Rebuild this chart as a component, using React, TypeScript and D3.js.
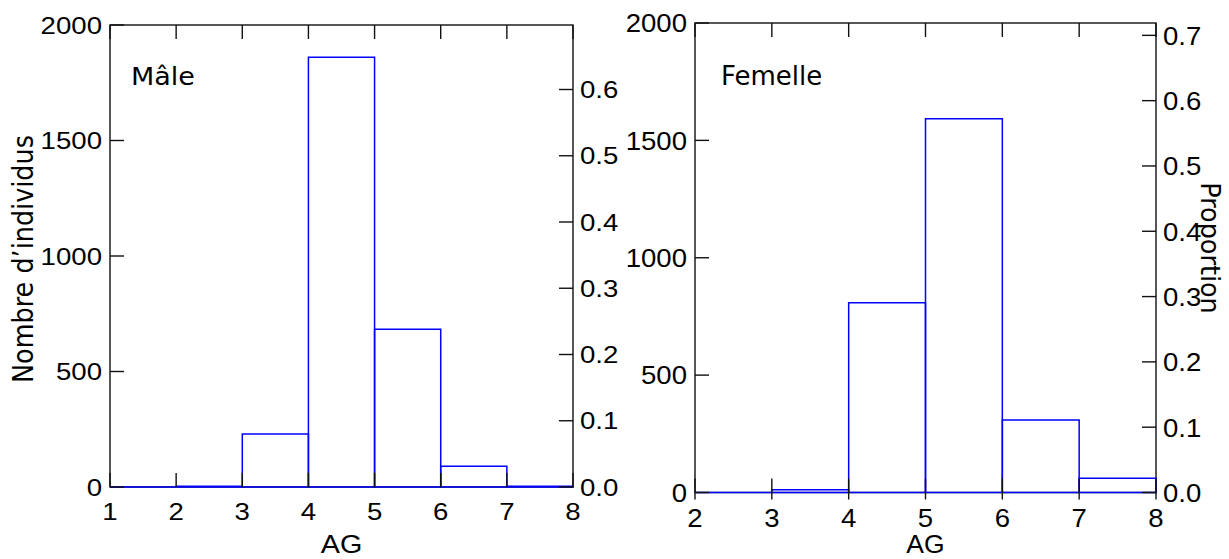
import React from "react";
import * as d3 from "d3";

// Histogram bins (left edge of each unit-wide class) and their counts
const maleBinStarts = [1, 2, 3, 4, 5, 6, 7];
const maleCounts = [0, 3, 229, 1860, 683, 90, 3];
const femaleBinStarts = [2, 3, 4, 5, 6, 7];
const femaleCounts = [0, 12, 808, 1592, 309, 61];

const maleXTicks = [1, 2, 3, 4, 5, 6, 7, 8];
const femaleXTicks = [2, 3, 4, 5, 6, 7, 8];
const countTicks = [0, 500, 1000, 1500, 2000];
const maleProportionTicks = [0, 0.1, 0.2, 0.3, 0.4, 0.5, 0.6];
const femaleProportionTicks = [0, 0.1, 0.2, 0.3, 0.4, 0.5, 0.6, 0.7];

const countMax = 2000;
const BAR = "#0000ff";
const AXIS = "#111";
const NUM_FONT = "'Liberation Sans', Arial, sans-serif";
const TITLE_FONT = "'DejaVu Sans', Verdana, sans-serif";

type TextProps = {
  x: number;
  y: number;
  sx?: number;
  rot?: number;
  size: number;
  family: string;
  anchor?: "start" | "middle" | "end";
  children: React.ReactNode;
};

function Txt({ x, y, sx = 1, rot = 0, size, family, anchor = "start", children }: TextProps) {
  return (
    <text
      transform={`translate(${x},${y}) scale(${sx},1) rotate(${rot})`}
      fontFamily={family}
      fontSize={size}
      textAnchor={anchor}
      fill="#000"
    >
      {children}
    </text>
  );
}

type PanelProps = {
  binStarts: number[];
  counts: number[];
  xTicks: number[];
  propTicks: number[];
  left: number;
  right: number;
  top: number;
  bottom: number;
  label: string;
  labelX: number;
  labelY: number;
  labelSize: number;
  labelSx: number;
  numSize: number;
  numSx: number;
  xLabelBaseline: number;
  agBaseline: number;
  agSize: number;
  bottomTickOut: number;
};

function Panel(p: PanelProps) {
  const x = d3.scaleLinear().domain([p.xTicks[0], p.xTicks[p.xTicks.length - 1]]).range([p.left, p.right]);
  const y = d3.scaleLinear().domain([0, countMax]).range([p.bottom, p.top]);
  const total = d3.sum(p.counts);
  const yp = d3.scaleLinear().domain([0, countMax / total]).range([p.bottom, p.top]);
  const tl = 14;
  const half = 0.358 * p.numSize;

  return (
    <g>
      {/* frame */}
      <rect
        x={p.left}
        y={p.top}
        width={p.right - p.left}
        height={p.bottom - p.top}
        fill="none"
        stroke={AXIS}
        strokeWidth={1.4}
      />
      {/* histogram outlines */}
      {p.binStarts.map((b, i) => {
        const x0 = x(b);
        const x1 = x(b + 1);
        const yt = y(p.counts[i]);
        const d = `M${x0},${p.bottom}V${yt}H${x1}V${p.bottom}Z`;
        return <path key={i} d={d} fill="none" stroke={BAR} strokeWidth={1.5} />;
      })}
      {/* x ticks bottom and top */}
      {p.xTicks.map((t) => (
        <g key={"x" + t}>
          <line x1={x(t)} x2={x(t)} y1={p.bottom + p.bottomTickOut} y2={p.bottom - tl} stroke={AXIS} strokeWidth={1.4} />
          <line x1={x(t)} x2={x(t)} y1={p.top} y2={p.top + tl} stroke={AXIS} strokeWidth={1.4} />
          <Txt x={x(t)} y={p.xLabelBaseline} sx={p.numSx} size={p.numSize} family={NUM_FONT} anchor="middle">
            {t}
          </Txt>
        </g>
      ))}
      {/* left count axis */}
      {countTicks.map((t) => (
        <g key={"c" + t}>
          <line x1={p.left} x2={p.left + tl} y1={y(t)} y2={y(t)} stroke={AXIS} strokeWidth={1.4} />
          <Txt x={p.left - 8} y={y(t) + half} sx={p.numSx} size={p.numSize} family={NUM_FONT} anchor="end">
            {t}
          </Txt>
        </g>
      ))}
      {/* right proportion axis */}
      {p.propTicks.map((t) => (
        <g key={"p" + t}>
          <line x1={p.right - tl} x2={p.right} y1={yp(t)} y2={yp(t)} stroke={AXIS} strokeWidth={1.4} />
          <Txt x={p.right + 7} y={yp(t) + half} sx={p.numSx} size={p.numSize} family={NUM_FONT} anchor="start">
            {d3.format(".1f")(t)}
          </Txt>
        </g>
      ))}
      <Txt x={p.labelX} y={p.labelY} sx={p.labelSx} size={p.labelSize} family={TITLE_FONT}>
        {p.label}
      </Txt>
      <Txt x={(p.left + p.right) / 2} y={p.agBaseline} sx={p.numSx} size={p.agSize} family={NUM_FONT} anchor="middle">
        AG
      </Txt>
    </g>
  );
}

export default function App() {
  return (
    <svg
      width={1229}
      height={559}
      style={{ position: "absolute", left: 0, top: 0, display: "block", background: "#fff" }}
    >
      <Panel
        binStarts={maleBinStarts}
        counts={maleCounts}
        xTicks={maleXTicks}
        propTicks={maleProportionTicks}
        left={110}
        right={573}
        top={25}
        bottom={487}
        label="Mâle"
        labelX={131}
        labelY={85}
        labelSize={25}
        labelSx={1.08}
        numSize={24}
        numSx={1.15}
        xLabelBaseline={520}
        agBaseline={553}
        agSize={25}
        bottomTickOut={0}
      />
      <Panel
        binStarts={femaleBinStarts}
        counts={femaleCounts}
        xTicks={femaleXTicks}
        propTicks={femaleProportionTicks}
        left={695}
        right={1156}
        top={23}
        bottom={492.5}
        label="Femelle"
        labelX={721}
        labelY={85}
        labelSize={26}
        labelSx={1.0}
        numSize={26}
        numSx={1.06}
        xLabelBaseline={527}
        agBaseline={553}
        agSize={25}
        bottomTickOut={7}
      />
      <Txt x={33} y={259} sx={1.12} rot={-90} size={25.5} family={TITLE_FONT} anchor="middle">
        Nombre d’individus
      </Txt>
      <Txt x={1201} y={248} sx={1.05} rot={90} size={25.5} family={TITLE_FONT} anchor="middle">
        Proportion
      </Txt>
    </svg>
  );
}
